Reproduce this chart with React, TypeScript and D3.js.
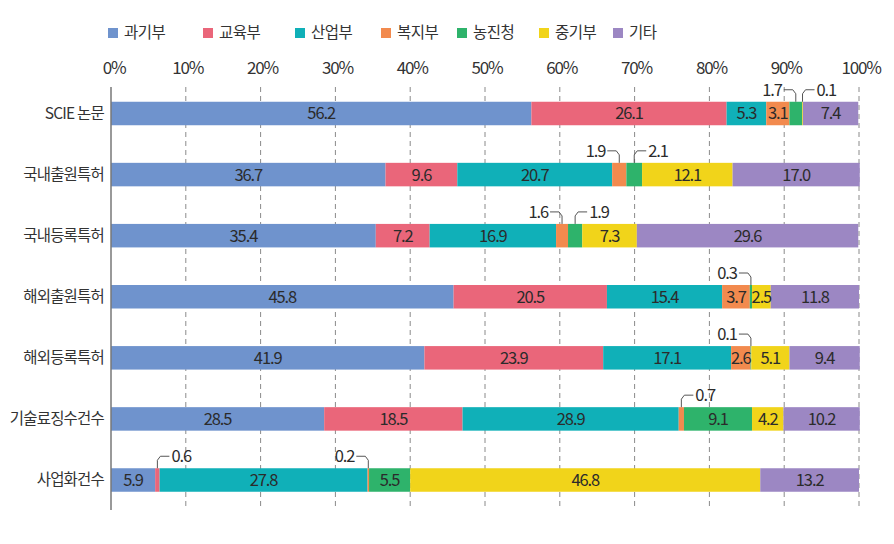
import React from "react";
import * as d3 from "d3";

const categories = ["SCIE 논문", "국내출원특허", "국내등록특허", "해외출원특허", "해외등록특허", "기술료징수건수", "사업화건수"];
const seriesNames = ["과기부", "교육부", "산업부", "복지부", "농진청", "중기부", "기타"];
const colors = ["#6f93cd", "#ea667a", "#10b0b8", "#f28a4e", "#2eb36b", "#f1d41a", "#9c87c3"];

const s과기부 = [56.2, 36.7, 35.4, 45.8, 41.9, 28.5, 5.9];
const s교육부 = [26.1, 9.6, 7.2, 20.5, 23.9, 18.5, 0.6];
const s산업부 = [5.3, 20.7, 16.9, 15.4, 17.1, 28.9, 27.8];
const s복지부 = [3.1, 1.9, 1.6, 3.7, 2.6, 0.7, 0.2];
const s농진청 = [1.7, 2.1, 1.9, 0.3, 0.1, 9.1, 5.5];
const s중기부 = [0.1, 12.1, 7.3, 2.5, 5.1, 4.2, 46.8];
const s기타 = [7.4, 17.0, 29.6, 11.8, 9.4, 10.2, 13.2];
const seriesValues = [s과기부, s교육부, s산업부, s복지부, s농진청, s중기부, s기타];

const tickValues = [0, 10, 20, 30, 40, 50, 60, 70, 80, 90, 100];

// callouts: [row, series, side]
const calloutRows = [0, 0, 1, 1, 2, 2, 3, 4, 5, 6, 6];
const calloutSeries = [4, 5, 3, 4, 3, 4, 4, 4, 3, 1, 3];
const calloutSides = ["L", "R", "L", "R", "L", "R", "L", "L", "R", "R", "L"];

const FONT = "'Noto Sans CJK KR', 'Noto Sans', sans-serif";

export default function App() {
  const W = 894, H = 544;
  const x = d3.scaleLinear().domain([0, 100]).range([111, 859]);
  const y = d3.scalePoint<string>().domain(categories).range([113.5, 480]);
  const bh = 23.5;
  const gridTop = 87, gridBottom = 510;

  const rows = categories.map((c, i) => {
    const vals = seriesValues.map((s) => s[i]);
    let acc = 0;
    return vals.map((v, j) => {
      const seg = { j, v, x0: acc, x1: acc + v };
      acc += v;
      return seg;
    });
  });

  const legendX = [108, 203, 295, 381, 457, 539, 613];

  return (
    <svg width={W} height={H} style={{ display: "block", position: "absolute", left: 0, top: 0, background: "#fff" }} fontFamily={FONT}>
      {/* legend */}
      {seriesNames.map((n, i) => (
        <g key={n} transform={`translate(${legendX[i]},33)`}>
          <rect x={0} y={-5} width={10} height={10} fill={colors[i]} />
          <text x={16} y={0} dy="0.35em" fontSize={15.5} fill="#333" letterSpacing={-0.5}>{n}</text>
        </g>
      ))}
      {/* ticks */}
      {tickValues.map((t) => (
        <text key={"t" + t} x={x(t) + (t === 0 ? 3 : 2)} y={68} dy="0.35em" textAnchor="middle" fontSize={17} fill="#333" letterSpacing={-1.2}>{t}%</text>
      ))}
      {/* grid */}
      {tickValues.map((t) => t === 0 ? null : (
        <line key={"g" + t} x1={x(t)} x2={x(t)} y1={gridTop} y2={gridBottom} stroke="#8a8a8a" strokeWidth={1} strokeDasharray="5,4" />
      ))}
      {/* bars */}
      {rows.map((segs, i) => {
        const cy = y(categories[i])!;
        return (
          <g key={"r" + i}>
            {segs.map((s) => (
              <rect key={s.j} x={x(s.x0)} y={cy - bh / 2} width={Math.max(0, x(s.x1) - x(s.x0))} height={bh} fill={colors[s.j]} />
            ))}
            {segs.map((s) => (x(s.x1) - x(s.x0) > 16 ? (
              <text key={"l" + s.j} x={(x(s.x0) + x(s.x1)) / 2} y={cy} dy="0.36em" textAnchor="middle" fontSize={16.5} fill="#2b2b2b" letterSpacing={-1.1}>{s.v.toFixed(1)}</text>
            ) : null))}
          </g>
        );
      })}
      {/* axis line */}
      <line x1={x(0)} x2={x(0)} y1={gridTop} y2={gridBottom} stroke="#777" strokeWidth={1.5} />
      {/* category labels */}
      {categories.map((c) => (
        <text key={c} x={104} y={y(c)!} dy="0.35em" textAnchor="end" fontSize={15.5} fill="#333" letterSpacing={-0.8}>{c}</text>
      ))}
      {/* callouts */}
      {calloutRows.map((r, k) => {
        const segs = rows[r];
        const s = segs[calloutSeries[k]];
        const cx = (x(s.x0) + x(s.x1)) / 2;
        const top = y(categories[r])! - bh / 2;
        const ly = top - 12;
        const side = calloutSides[k];
        if (side === "L") {
          const tx = cx - 14;
          return (
            <g key={"c" + k}>
              <path d={`M${tx + 2},${ly} H${cx - 3} L${cx},${ly + 4} V${top}`} fill="none" stroke="#555" strokeWidth={1} />
              <text x={tx} y={ly} dy="0.35em" textAnchor="end" fontSize={16.5} fill="#2b2b2b" letterSpacing={-1.1}>{s.v.toFixed(1)}</text>
            </g>
          );
        } else {
          const tx = cx + 14;
          return (
            <g key={"c" + k}>
              <path d={`M${cx},${top} V${ly + 4} L${cx + 3},${ly} H${tx - 2}`} fill="none" stroke="#555" strokeWidth={1} />
              <text x={tx} y={ly} dy="0.35em" textAnchor="start" fontSize={16.5} fill="#2b2b2b" letterSpacing={-1.1}>{s.v.toFixed(1)}</text>
            </g>
          );
        }
      })}
    </svg>
  );
}
